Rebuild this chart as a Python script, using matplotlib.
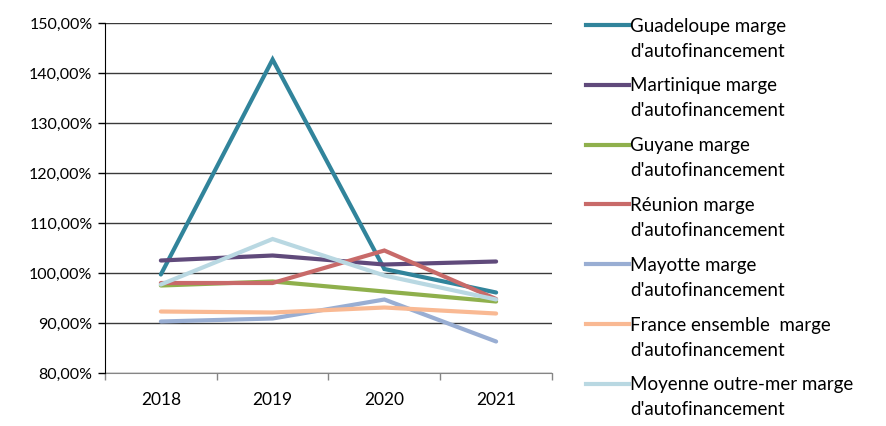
import matplotlib
matplotlib.use("Agg")
import matplotlib.pyplot as plt
from matplotlib.lines import Line2D
from matplotlib.ticker import FuncFormatter, MultipleLocator

years = ["2018", "2019", "2020", "2021"]
series_names = [
    "Guadeloupe marge\nd'autofinancement",
    "Martinique marge\nd'autofinancement",
    "Guyane marge\nd'autofinancement",
    "Réunion marge\nd'autofinancement",
    "Mayotte marge\nd'autofinancement",
    "France ensemble  marge\nd'autofinancement",
    "Moyenne outre-mer marge\nd'autofinancement",
]
guadeloupe = [99.7, 142.7, 100.8, 96.1]
martinique = [102.5, 103.5, 101.7, 102.3]
guyane = [97.5, 98.3, 96.3, 94.3]
reunion = [98.0, 98.0, 104.5, 94.8]
mayotte = [90.3, 90.9, 94.7, 86.3]
france = [92.3, 92.1, 93.1, 91.9]
moyenne = [97.7, 106.8, 99.5, 94.7]
all_values = [guadeloupe, martinique, guyane, reunion, mayotte, france, moyenne]
colors = ["#31849B", "#604A7B", "#8FB04C", "#C86A69", "#99AED3", "#F9B993", "#B9D8E2"]

plt.rcParams["font.family"] = ["Lato", "DejaVu Sans"]
fig = plt.figure(figsize=(8.86, 4.26), dpi=100)
ax = fig.add_axes([0.1185, 0.1244, 0.5045, 0.8216])

x = list(range(len(years)))
for vals, c in zip(all_values, colors):
    ax.plot(x, vals, color=c, lw=3, solid_capstyle="round", solid_joinstyle="miter", zorder=3)

ax.set_xlim(-0.5, len(years) - 0.5)
ax.set_ylim(80, 150)
ax.yaxis.set_major_locator(MultipleLocator(10))
ax.yaxis.set_major_formatter(FuncFormatter(lambda v, p: f"{v:.2f}".replace(".", ",") + "%"))
ax.set_xticks(x)
ax.set_xticklabels(years)
ax.set_xticks([i - 0.5 for i in range(len(years) + 1)], minor=True)
ax.tick_params(axis="x", which="major", length=0, pad=14, labelsize=12.5)
ax.tick_params(axis="x", which="minor", length=5, color="#868686", width=1)
ax.tick_params(axis="y", length=5, width=1, color="#000000", labelsize=11.5, pad=4)
ax.grid(axis="y", color="#3a3a3a", lw=1, zorder=1)
for s in ["top", "right"]:
    ax.spines[s].set_visible(False)
ax.spines["left"].set_color("#000000")
ax.spines["bottom"].set_color("#868686")
ax.spines["bottom"].set_zorder(2)

# legend (handle aligned with the first text line, as in the reference)
W, H = 886, 426
y0 = 25
step = 59.8
for i, (name, c) in enumerate(zip(series_names, colors)):
    yl = y0 + i * step
    fig.add_artist(Line2D([586 / W, 629 / W], [1 - yl / H, 1 - yl / H], color=c, lw=3,
                          transform=fig.transFigure))
    for j, line in enumerate(name.split("\n")):
        yb = yl + 6.7 + j * 25
        fig.text(630 / W, 1 - yb / H, line, fontsize=13.5, va="baseline", ha="left",
                 transform=fig.transFigure)

fig.savefig("out.png", dpi=100)
